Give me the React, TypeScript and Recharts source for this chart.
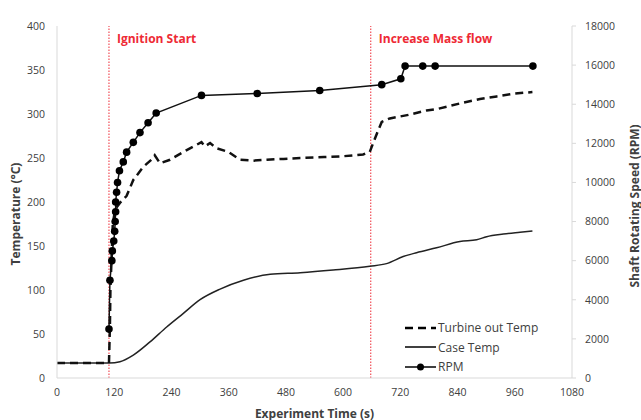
import React from "react"
import { LineChart, Line, XAxis, YAxis, ReferenceLine, Label } from "recharts"

// Time axis (s)
const timeTicks = [0, 120, 240, 360, 480, 600, 720, 840, 960, 1080]
const tempTicks = [0, 50, 100, 150, 200, 250, 300, 350, 400]
const rpmTicks = [0, 2000, 4000, 6000, 8000, 10000, 12000, 14000, 16000, 18000]

// Turbine outlet temperature (°C)
const turbineTime = [
  0, 30, 60, 90, 109, 111, 112, 114, 115, 117, 122, 132, 146, 160, 181, 200, 205,
  216, 237, 272, 303, 310, 321, 335, 359, 384, 412, 440, 475, 510, 560, 600, 642,
  656, 663, 674, 681, 698, 737, 775, 800, 845, 887, 922, 957, 997,
]
const turbineTemp = [
  17, 17, 17, 17, 17, 60, 100, 130, 145, 175, 192, 199, 207, 225, 240, 249, 253,
  244, 248, 259, 268, 263, 267, 261, 257, 248, 247, 248, 249, 250, 251, 252, 254,
  257, 267, 282, 291, 295, 299, 304, 306, 312, 317, 320, 323, 325,
]

// Case temperature (°C)
const caseTime = [
  0, 60, 110, 132, 160, 195, 230, 265, 300, 342, 391, 447, 510, 579, 656, 691, 726,
  754, 796, 845, 880, 901, 936, 971, 997,
]
const caseTemp = [
  17, 17, 17, 18.5, 26, 41, 58, 73.5, 89, 101, 111, 118, 119.7, 122.7, 127, 130,
  138, 142.4, 148, 155, 157, 160.6, 163.6, 165.6, 167,
]

// Shaft speed (RPM)
const rpmTime = [
  109, 111, 115, 116, 119, 121, 122, 123, 123, 125, 127, 131, 139, 146, 160, 174,
  191, 208, 303, 420, 551, 681, 721, 730, 767, 793, 998,
]
const rpmValue = [
  2500, 5000, 6000, 6500, 7000, 7500, 8000, 8500, 9000, 9500, 10000, 10600, 11050,
  11550, 12050, 12550, 13050, 13550, 14450, 14550, 14700, 15000, 15300, 15950,
  15950, 15950, 15950,
]

const events = [
  { t: 109, text: "Ignition Start" },
  { t: 658, text: "Increase Mass flow" },
]

const toRows = (xs: number[], ys: number[]) => xs.map((t, i) => ({ t, v: ys[i] }))

const turbineData = toRows(turbineTime, turbineTemp)
const caseData = toRows(caseTime, caseTemp)
const rpmData = toRows(rpmTime, rpmValue)

const FONT = "'Open Sans', sans-serif"
const AXIS = "#d9d9d9"
const TEXT = "#404040"
const RED = "#ee2a35"

const legendItems = [
  { name: "Turbine out Temp", dash: "8 5", width: 2.5, dot: false },
  { name: "Case Temp", dash: undefined, width: 1.5, dot: false },
  { name: "RPM", dash: undefined, width: 1.5, dot: true },
]

// rotated / offset axis title drawn at the middle of the axis box
function axisTitle(text: string, dx: number, dy: number, angle: number) {
  return (props: any) => {
    const vb = props.viewBox
    const cx = vb.x + vb.width / 2 + dx
    const cy = vb.y + vb.height / 2 + dy
    return (
      <text
        x={cx}
        y={cy}
        transform={`rotate(${angle} ${cx} ${cy})`}
        textAnchor="middle"
        dominantBaseline="central"
        fontFamily={FONT}
        fontWeight={700}
        fontSize={12}
        fill={TEXT}
      >
        {text}
      </text>
    )
  }
}

function LegendBox() {
  return (
    <div
      style={{
        position: "absolute",
        left: 404,
        top: 318,
        fontFamily: FONT,
        fontSize: 12,
        color: TEXT,
      }}
    >
      {legendItems.map((item) => (
        <div
          key={item.name}
          style={{ display: "flex", alignItems: "center", height: 19.5 }}
        >
          <svg width={33} height={12} style={{ marginRight: 1 }}>
            <line
              x1={1}
              y1={6}
              x2={32}
              y2={6}
              stroke="#000"
              strokeWidth={item.width}
              strokeDasharray={item.dash}
            />
            {item.dot && <circle cx={16.5} cy={6} r={3.5} fill="#000" />}
          </svg>
          <span>{item.name}</span>
        </div>
      ))}
    </div>
  )
}

export default function App() {
  return (
    <div style={{ position: "absolute", left: 0, top: 0, width: 641, height: 420, background: "#fff" }}>
      <LineChart
        width={641}
        height={420}
        margin={{ top: 26, right: 0, bottom: 0, left: 0 }}
      >
        <XAxis
          type="number"
          dataKey="t"
          domain={[0, 1080]}
          ticks={timeTicks}
          height={42}
          axisLine={{ stroke: AXIS }}
          tickLine={false}
          tickSize={0}
          tickMargin={11}
          tick={{ fill: TEXT, fontSize: 10.5, fontFamily: FONT }}
          allowDataOverflow
        >
          <Label content={axisTitle("Experiment Time (s)", 0, 14, 0)} />
        </XAxis>
        <YAxis
          yAxisId="temp"
          domain={[0, 400]}
          ticks={tempTicks}
          width={57}
          axisLine={{ stroke: AXIS }}
          tickLine={false}
          tickSize={0}
          tickMargin={12}
          tick={{ fill: TEXT, fontSize: 10.5, fontFamily: FONT }}
        >
          <Label content={axisTitle("Temperature (°C)", -13.5, 12, -90)} />
        </YAxis>
        <YAxis
          yAxisId="rpm"
          orientation="right"
          domain={[0, 18000]}
          ticks={rpmTicks}
          width={69}
          axisLine={{ stroke: AXIS }}
          tickLine={{ stroke: AXIS }}
          tickSize={4}
          tickMargin={9}
          tick={{ fill: TEXT, fontSize: 10.5, fontFamily: FONT, textAnchor: "start" }}
        >
          <Label content={axisTitle("Shaft Rotating Speed (RPM)", 27.5, 4, -90)} />
        </YAxis>
        {events.map((e) => (
          <ReferenceLine
            key={e.text}
            yAxisId="temp"
            x={e.t}
            stroke={RED}
            strokeWidth={1}
            strokeDasharray="1.5 1.5"
            label={{
              value: e.text,
              position: "insideTopLeft",
              offset: 8,
              fill: RED,
              fontSize: 12,
              fontWeight: 700,
              fontFamily: FONT,
            }}
          />
        ))}
        <Line
          yAxisId="temp"
          data={caseData}
          dataKey="v"
          name="Case Temp"
          type="monotone"
          stroke="#222"
          strokeWidth={1.5}
          dot={false}
          isAnimationActive={false}
        />
        <Line
          yAxisId="temp"
          data={turbineData}
          dataKey="v"
          name="Turbine out Temp"
          type="linear"
          stroke="#111"
          strokeWidth={2.5}
          strokeDasharray="8 5"
          dot={false}
          isAnimationActive={false}
        />
        <Line
          yAxisId="rpm"
          data={rpmData}
          dataKey="v"
          name="RPM"
          type="linear"
          stroke="#111"
          strokeWidth={1.5}
          dot={{ r: 3.8, fill: "#000", stroke: "#000", strokeWidth: 0 }}
          isAnimationActive={false}
        />
      </LineChart>
      <LegendBox />
    </div>
  )
}
